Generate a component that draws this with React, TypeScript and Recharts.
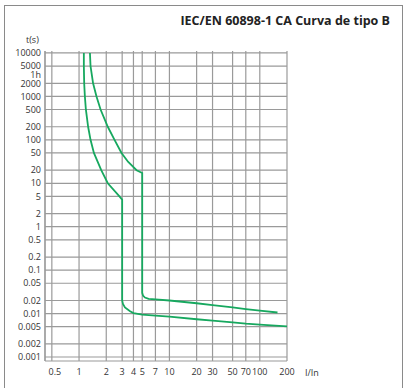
import {
  CartesianGrid,
  Line,
  LineChart,
  ReferenceLine,
  XAxis,
  YAxis,
} from "recharts";

const currentTicks = [0.5, 1, 2, 3, 4, 5, 7, 10, 20, 30, 50, 70, 100, 200];
const timeTicks = [
  10000, 5000, 3600, 2000, 1000, 500, 200, 100, 50, 20, 10, 5, 2, 1, 0.5, 0.2,
  0.1, 0.05, 0.02, 0.01, 0.005, 0.002, 0.001,
];
// same as the ticks but without the 1h mark, which has no grid line
const gridTimes = [
  10000, 5000, 2000, 1000, 500, 200, 100, 50, 20, 10, 5, 2, 1, 0.5, 0.2, 0.1,
  0.05, 0.02, 0.01, 0.005, 0.002, 0.001,
];

// lower limit curve (I/In, t in s)
const lowCurrent = [
  1.13, 1.13, 1.14, 1.16, 1.19, 1.26, 1.34, 1.46, 1.76, 2.08, 2.8, 3, 3, 3.06,
  3.22, 3.67, 4, 5, 7, 10, 20, 30, 50, 70, 100, 200,
];
const lowTime = [
  10000, 5000, 2000, 1000, 500, 200, 100, 50, 20, 10, 5, 4.2, 0.02, 0.0166,
  0.0139, 0.0113, 0.0103, 0.0095, 0.009, 0.0085, 0.0074, 0.0069, 0.0063, 0.0059,
  0.0056, 0.0051,
];

// upper limit curve
const highCurrent = [
  1.32, 1.34, 1.43, 1.56, 1.73, 2.08, 2.47, 2.95, 3.5, 4.33, 5, 5, 5.1, 5.36,
  5.89, 7, 10, 20, 30, 50, 70, 100, 157,
];
const highTime = [
  10000, 5000, 2000, 1000, 500, 200, 100, 50, 31, 20, 17.2, 0.03, 0.026, 0.0234,
  0.0218, 0.0212, 0.02, 0.0173, 0.0157, 0.0139, 0.0127, 0.0117, 0.0106,
];

const toPoints = (cur: number[], time: number[]) =>
  cur.map((v, k) => ({ i: v, t: time[k] }));

const lowData = toPoints(lowCurrent, lowTime);
const highData = toPoints(highCurrent, highTime);

const font = "'Open Sans', 'Noto Sans', sans-serif";
const gridColor = "#9a9a9a";
const green = "#17a85f";

function TimeTick({ x, y, payload }: any) {
  const v = payload.value;
  const label = v === 3600 ? "1h" : String(v);
  return (
    <text
      x={x}
      y={v === 3600 ? y + 2.5 : y}
      dy="0.355em"
      textAnchor="end"
      fontFamily={font}
      fontSize={9}
      fill="#333"
    >
      {label}
    </text>
  );
}

function CurrentTick({ x, y, payload }: any) {
  const v = payload.value;
  return (
    <text
      x={v === 0.5 ? x + 3 : x}
      y={y}
      dy="0.71em"
      textAnchor="middle"
      fontFamily={font}
      fontSize={9}
      fill="#333"
    >
      {String(v)}
    </text>
  );
}

export default function App() {
  return (
    <div
      style={{
        position: "absolute",
        left: 0,
        top: 0,
        width: 408,
        height: 388,
        overflow: "hidden",
        background: "#fff",
        fontFamily: font,
      }}
    >
      <div
        style={{
          position: "absolute",
          left: 4,
          top: 5,
          width: 397,
          height: 400,
          borderLeft: "1.5px solid #8a8a8a",
          borderTop: "1.5px solid #8a8a8a",
          borderRight: "1.5px solid #8a8a8a",
        }}
      />
      <div
        style={{
          position: "absolute",
          right: 18,
          top: 12,
          fontSize: 12.5,
          fontWeight: 700,
          color: "#222",
          whiteSpace: "nowrap",
        }}
      >
        IEC/EN 60898-1 CA Curva de tipo B
      </div>
      <div
        style={{
          position: "absolute",
          left: 26,
          top: 33,
          fontSize: 9,
          color: "#333",
        }}
      >
        t(s)
      </div>
      <div
        style={{
          position: "absolute",
          left: 305,
          top: 366,
          fontSize: 9,
          color: "#333",
        }}
      >
        I/In
      </div>
      <div style={{ position: "absolute", left: 0, top: 0 }}>
        <LineChart
          width={408}
          height={388}
          margin={{ top: 51, right: 121, bottom: 7, left: 0 }}
        >
          <CartesianGrid
            stroke={gridColor}
            strokeWidth={1.2}
            horizontal={false}
          />
          {gridTimes.map((t) => (
            <ReferenceLine
              key={t}
              y={t}
              stroke={gridColor}
              strokeWidth={1.2}
            />
          ))}
          <XAxis
            dataKey="i"
            type="number"
            scale="log"
            domain={[0.42, 200]}
            ticks={currentTicks}
            interval={0}
            allowDataOverflow
            height={20}
            tickSize={0}
            tickMargin={8}
            tick={<CurrentTick />}
            axisLine={{ stroke: gridColor, strokeWidth: 1.2 }}
          />
          <XAxis
            xAxisId="top"
            orientation="top"
            type="number"
            scale="log"
            domain={[0.42, 200]}
            allowDataOverflow
            height={0}
            tick={false}
            tickLine={false}
            axisLine={{ stroke: gridColor, strokeWidth: 1.2 }}
          />
          <YAxis
            type="number"
            scale="log"
            domain={[0.00081, 11100]}
            ticks={timeTicks}
            interval={0}
            allowDataOverflow
            width={45}
            tickSize={0}
            tickMargin={4}
            tick={<TimeTick />}
            axisLine={{ stroke: gridColor, strokeWidth: 1.2 }}
          />
          <Line
            data={lowData}
            dataKey="t"
            type="linear"
            stroke={green}
            strokeWidth={1.8}
            dot={false}
            isAnimationActive={false}
          />
          <Line
            data={highData}
            dataKey="t"
            type="linear"
            stroke={green}
            strokeWidth={1.8}
            dot={false}
            isAnimationActive={false}
          />
        </LineChart>
      </div>
    </div>
  );
}
